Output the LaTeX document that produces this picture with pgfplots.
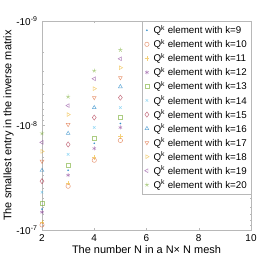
\documentclass[border=0pt]{standalone}
\usepackage{pgfplots}
\pgfplotsset{compat=1.18}
\usepackage{fontspec}
\setmainfont{Liberation Sans}
\usetikzlibrary{calc}
\definecolor{c1}{rgb}{0,0.447,0.741}
\definecolor{c2}{rgb}{0.85,0.325,0.098}
\definecolor{c3}{rgb}{0.929,0.694,0.125}
\definecolor{c4}{rgb}{0.494,0.184,0.556}
\definecolor{c5}{rgb}{0.466,0.674,0.188}
\definecolor{c6}{rgb}{0.301,0.745,0.933}
\definecolor{c7}{rgb}{0.635,0.078,0.184}
\definecolor{axgray}{gray}{0.72}
\begin{document}
\begin{tikzpicture}
\begin{axis}[
  scale only axis,
  width=209bp, height=209bp,
  xmin=2, xmax=10,
  xtick={2,4,6,8,10},
  ymode=log, y dir=reverse,
  ymin=1e-9, ymax=1e-7,
  ytick={1e-9,1e-8,1e-7},
  yticklabels={{-10\textsuperscript{-9}},{-10\textsuperscript{-8}},{-10\textsuperscript{-7}}},
  /pgf/number format/assume math mode=true,
  tick align=inside, tick pos=both,
  axis line style={axgray, line width=0.5pt},
  major tick style={axgray, line width=0.5pt},
  minor tick style={axgray, line width=0.5pt},
  major tick length=2.5bp, minor tick length=1.5bp,
  tick label style={font=\fontsize{10}{12}\selectfont, black},
  yticklabel style={xshift=-1bp},
  xticklabel style={yshift=-1bp},
  label style={font=\fontsize{11}{13}\selectfont},
  xlabel={The number N in a N× N mesh},
  ylabel={The smallest entry in the inverse matrix},
  xlabel style={yshift=3bp},
  ylabel style={yshift=-4bp},
  every axis plot/.append style={only marks, line width=0.5pt, mark size=2.2pt, opacity=0.6},
  legend image code/.code={\draw[mark repeat=2,mark phase=2,#1] plot coordinates {(0cm,0cm) (0.07cm,0cm) (0.14cm,0cm)};},
  legend style={at={(1,1)}, anchor=north east, draw=axgray, line width=0.5pt,
    font=\fontsize{9.8}{11}\selectfont, inner xsep=2pt, inner ysep=2pt,
    row sep=0pt, /tikz/every odd column/.append style={column sep=2.5pt}},
  legend cell align=left,
]
\coordinate (ll) at (rel axis cs:0,0);
\coordinate (ur) at (rel axis cs:1,1);
% k=9
\addplot[c1, mark=*, mark size=0.6pt] coordinates {(2,6.31e-8) (3,2.68e-8) (4,1.48e-8) (5,9.57e-9)};
\addlegendentry{Q\textsuperscript{k} element with k=9}
% k=10
\addplot[c2, mark=o] coordinates {(2,8.95e-8) (3,3.81e-8) (4,2.15e-8) (5,1.39e-8)};
\addlegendentry{Q\textsuperscript{k} element with k=10}
% k=11
\addplot[c3, mark=+] coordinates {(2,8.40e-8) (3,3.57e-8) (4,2.02e-8) (5,1.27e-8)};
\addlegendentry{Q\textsuperscript{k} element with k=11}
% k=12
\addplot[c4, mark=asterisk, mark size=2pt] coordinates {(2,6.75e-8) (3,2.99e-8) (4,1.66e-8) (5,1.045e-8)};
\addlegendentry{Q\textsuperscript{k} element with k=12}
% k=13
\addplot[c5, mark=square, mark size=2pt] coordinates {(2,5.53e-8) (3,2.40e-8) (4,1.33e-8) (5,8.39e-9)};
\addlegendentry{Q\textsuperscript{k} element with k=13}
% k=14
\addplot[c6, mark=x, mark size=1.8pt] coordinates {(2,4.35e-8) (3,1.89e-8) (4,1.045e-8) (5,6.74e-9)};
\addlegendentry{Q\textsuperscript{k} element with k=14}
% k=15
\addplot[c7, mark=diamond, mark size=2.6pt] coordinates {(2,3.41e-8) (3,1.52e-8) (4,8.39e-9) (5,5.41e-9)};
\addlegendentry{Q\textsuperscript{k} element with k=15}
% k=16
\addplot[c1, mark=triangle] coordinates {(2,2.69e-8) (3,1.19e-8) (4,6.74e-9) (5,4.25e-9)};
\addlegendentry{Q\textsuperscript{k} element with k=16}
% k=17
\addplot[c2, mark=triangle, mark options={rotate=180}] coordinates {(2,2.20e-8) (3,9.79e-9) (4,5.41e-9) (5,3.49e-9)};
\addlegendentry{Q\textsuperscript{k} element with k=17}
% k=18
\addplot[c3, mark=triangle, mark options={rotate=-90}] coordinates {(2,1.77e-8) (3,7.86e-9) (4,4.44e-9) (5,2.80e-9)};
\addlegendentry{Q\textsuperscript{k} element with k=18}
% k=19
\addplot[c4, mark=triangle, mark options={rotate=90}] coordinates {(2,1.45e-8) (3,6.45e-9) (4,3.57e-9) (5,2.30e-9)};
\addlegendentry{Q\textsuperscript{k} element with k=19}
% k=20
\addplot[c5, mark=star, mark size=2.2pt] coordinates {(2,1.19e-8) (3,5.30e-9) (4,2.99e-9) (5,1.89e-9)};
\addlegendentry{Q\textsuperscript{k} element with k=20}
\end{axis}
\pgfresetboundingbox
\path[use as bounding box] ($(ll)+(-42bp,-31bp)$) rectangle ($(ur)+(27bp,21bp)$);
\end{tikzpicture}
\end{document}
